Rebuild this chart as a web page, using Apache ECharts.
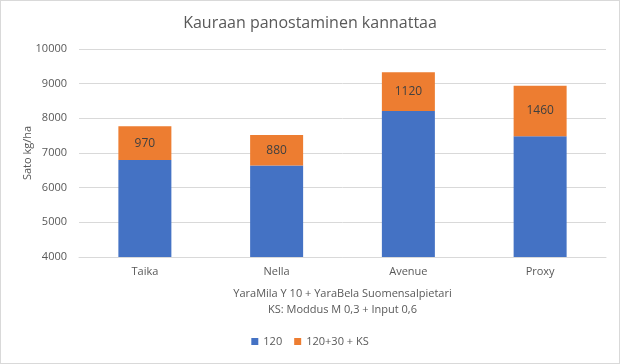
<!DOCTYPE html>
<html>
<head>
<meta charset="utf-8">
<script src="https://cdn.jsdelivr.net/npm/echarts@6/dist/echarts.min.js"></script>
<style>
  html, body { margin: 0; padding: 0; background: #fff; }
  #chart { width: 618px; height: 362px; border: 1px solid #d9d9d9; }
</style>
</head>
<body>
<div id="chart"></div>
<script>
const categories = ["Taika", "Nella", "Avenue", "Proxy"];
const base120 = [6800, 6640, 8210, 7480];
const extraKS = [970, 880, 1120, 1460];
const seriesNames = ["120", "120+30 + KS"];

const chart = echarts.init(document.getElementById("chart"));
const font = "'Open Sans', 'Noto Sans', sans-serif";

const option = {
  animation: false,
  textStyle: { fontFamily: font },
  title: {
    text: "Kauraan panostaminen kannattaa",
    left: "center",
    top: 9,
    textStyle: { fontFamily: font, fontSize: 16, fontWeight: "normal", color: "#595959" },
  },
  grid: { left: 78, right: 13, top: 48, bottom: 106 },
  xAxis: {
    type: "category",
    data: categories,
    name: "YaraMila Y 10 + YaraBela Suomensalpietari\nKS: Moddus M 0,3 + Input 0,6",
    nameLocation: "middle",
    nameGap: 29,
    nameTextStyle: { color: "#595959", fontSize: 11, lineHeight: 16 },
    axisLine: { lineStyle: { color: "#d9d9d9" } },
    axisTick: { show: false },
    axisLabel: { color: "#595959", fontSize: 11, margin: 9 },
  },
  yAxis: {
    type: "value",
    min: 4000,
    max: 10000,
    interval: 1000,
    name: "Sato kg/ha",
    nameLocation: "middle",
    nameGap: 46,
    nameMoveOverlap: false,
    nameTextStyle: { color: "#595959", fontSize: 11 },
    axisLabel: { color: "#595959", fontSize: 11, margin: 12, formatter: (v) => String(v) },
    splitLine: { lineStyle: { color: "#d9d9d9" } },
  },
  legend: {
    bottom: 11,
    icon: "rect",
    itemWidth: 7,
    itemHeight: 7,
    itemGap: 12,
    textStyle: { color: "#595959", fontSize: 11 },
    data: seriesNames,
  },
  series: [
    {
      name: seriesNames[0],
      type: "bar",
      stack: "total",
      barWidth: 53,
      data: base120,
      itemStyle: { color: "#4472c4" },
    },
    {
      name: seriesNames[1],
      type: "bar",
      stack: "total",
      barWidth: 53,
      data: extraKS,
      itemStyle: { color: "#ed7d31" },
      label: { show: true, position: "inside", color: "#404040", fontSize: 12 },
    },
  ],
};

chart.setOption(option);
</script>
</body>
</html>
